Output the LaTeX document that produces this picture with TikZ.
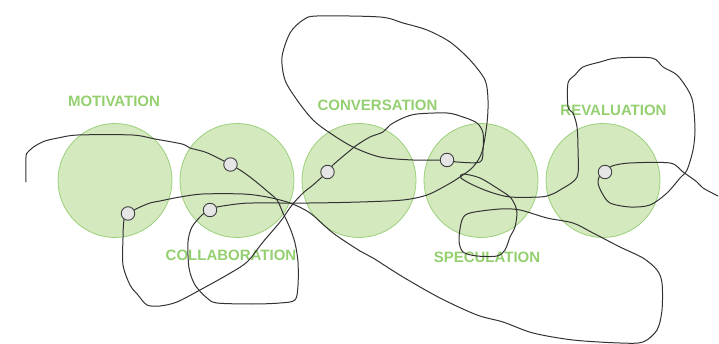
\documentclass[tikz,border=0pt]{standalone}
\usepackage{fontspec}
\setmainfont{Liberation Sans}
\usetikzlibrary{positioning}

\definecolor{stageFill}{HTML}{D5E9BF}
\definecolor{stageLine}{HTML}{9AD07A}
\definecolor{stageText}{HTML}{94CF70}
\definecolor{wireGray}{HTML}{333333}

\tikzstyle{stage} = [circle, minimum size=114pt, inner sep=0pt, outer sep=0pt, draw=stageLine, line width=0.8pt, fill=stageFill]
\tikzstyle{stageLabel} = [text=stageText, font=\bfseries\fontsize{15}{16}\selectfont, inner sep=0pt]
\tikzstyle{dot} = [circle, minimum size=13.5pt, inner sep=0pt, draw=black!75, line width=0.9pt, fill=black!10]
\tikzstyle{wire} = [draw=wireGray, line width=1pt, line join=round, line cap=round]

\pgfdeclarelayer{bg}
\pgfdeclarelayer{wires}
\pgfsetlayers{bg,wires,main}

\begin{document}
\begin{tikzpicture}[x=1pt, y=-1pt]

\useasboundingbox (0,0) rectangle (719,344);

\begin{pgfonlayer}{bg}
\node (motivation) [stage] at (115,180.5) {};
\node (collaboration) [stage, right=8pt of motivation] {};
\node (conversation) [stage, right=8pt of collaboration] {};
\node (speculation) [stage, right=8pt of conversation] {};
\node (revaluation) [stage, right=8pt of speculation] {};

\node (motivationLbl) [stageLabel] at (114,101) {MOTIVATION};
\node (collaborationLbl) [stageLabel] at (231,255) {COLLABORATION};
\node (conversationLbl) [stageLabel] at (377.5,105) {CONVERSATION};
\node (speculationLbl) [stageLabel] at (487,257) {SPECULATION};
\node (revaluationLbl) [stageLabel] at (613.5,110) {REVALUATION};
\end{pgfonlayer}

\node (d1) [dot] at (128,213.5) {};
\node (d2) [dot] at (230.5,164.5) {};
\node (d3) [dot] at (210,210) {};
\node (d4) [dot] at (327.5,172) {};
\node (d5) [dot] at (447,160) {};
\node (d6) [dot] at (605,172) {};

\coordinate (start) at (26,182);
\coordinate (finish) at (718,196);

\begin{pgfonlayer}{wires}
\draw [wire] plot[smooth, tension=0.5] coordinates {(start) (26,157) (28,152) (35,146) (45,141) (58,138) (78,135) (132,135) (155,139) (182,144) (190,148) (205,152) (218,158) (d2)};

\draw [wire] plot[smooth, tension=0.5] coordinates {(d2) (240,170) (250,177) (260,185) (267,191) (277,200) (283,213) (290,228) (295,243) (298,262) (298,285) (295,300) (280,303) (253,304) (217,303) (207,298) (195,285) (189,268) (188,242) (192,227) (202,215) (d3)};

\draw [wire] plot[smooth, tension=0.5] coordinates {(d3) (217,207) (237,204) (253,203) (310,203) (360,202) (403,200) (427,195) (447,185) (460,177) (473,167) (482,152) (487,123) (488,100) (485,80) (470,60) (450,42) (427,30) (403,23) (380,17) (317,16) (303,20) (290,33) (282,57) (285,80) (297,100) (313,120) (330,133) (353,147) (380,157) (413,160) (d5)};

\draw [wire] plot[smooth, tension=0.5] coordinates {(d4) (313,185) (303,193) (292,205) (280,222) (263,242) (247,262) (227,275) (200,290) (177,302) (160,306) (147,305) (138,295) (130,285) (123,265) (123,238) (124,220) (d1)};

\draw [wire] plot[smooth, tension=0.5] coordinates {(d4) (333,165) (347,153) (357,145) (370,137) (383,132) (390,125) (403,118) (417,114) (447,113) (463,117) (477,123) (483,133) (483,150) (480,162) (457,162) (d5)};

\draw [wire] plot[smooth, tension=0.5] coordinates {(d1) (138,208) (150,203) (160,201) (180,197) (203,194) (243,194) (267,197) (290,203) (310,213) (333,233) (360,251) (373,258) (403,277) (440,298) (477,315) (503,322) (533,333) (573,340) (620,343) (643,342) (657,330) (662,310) (662,283) (657,270) (643,258) (620,247) (593,233) (573,223) (547,218) (520,210) (500,209) (470,213) (462,220) (459,240) (463,252) (477,256) (497,256) (505,250) (510,237) (515,227) (517,213) (515,205) (510,197) (500,190) (480,178) (463,174) (461,178) (473,185) (490,192) (510,197) (540,197) (550,195) (560,190) (577,177) (578,150) (577,127) (573,113) (568,107) (568,83) (575,75) (583,67) (600,62) (617,58) (652,58) (663,67) (677,75) (688,90) (693,103) (695,130) (693,150) (687,170) (680,178) (667,193) (650,205) (630,207) (610,203) (602,193) (598,183) (600,175) (d6)};

\draw [wire] plot[smooth, tension=0.5] coordinates {(d6) (612,166) (630,163) (670,163) (683,172) (697,182) (703,188) (finish)};
\end{pgfonlayer}

\end{tikzpicture}
\end{document}
